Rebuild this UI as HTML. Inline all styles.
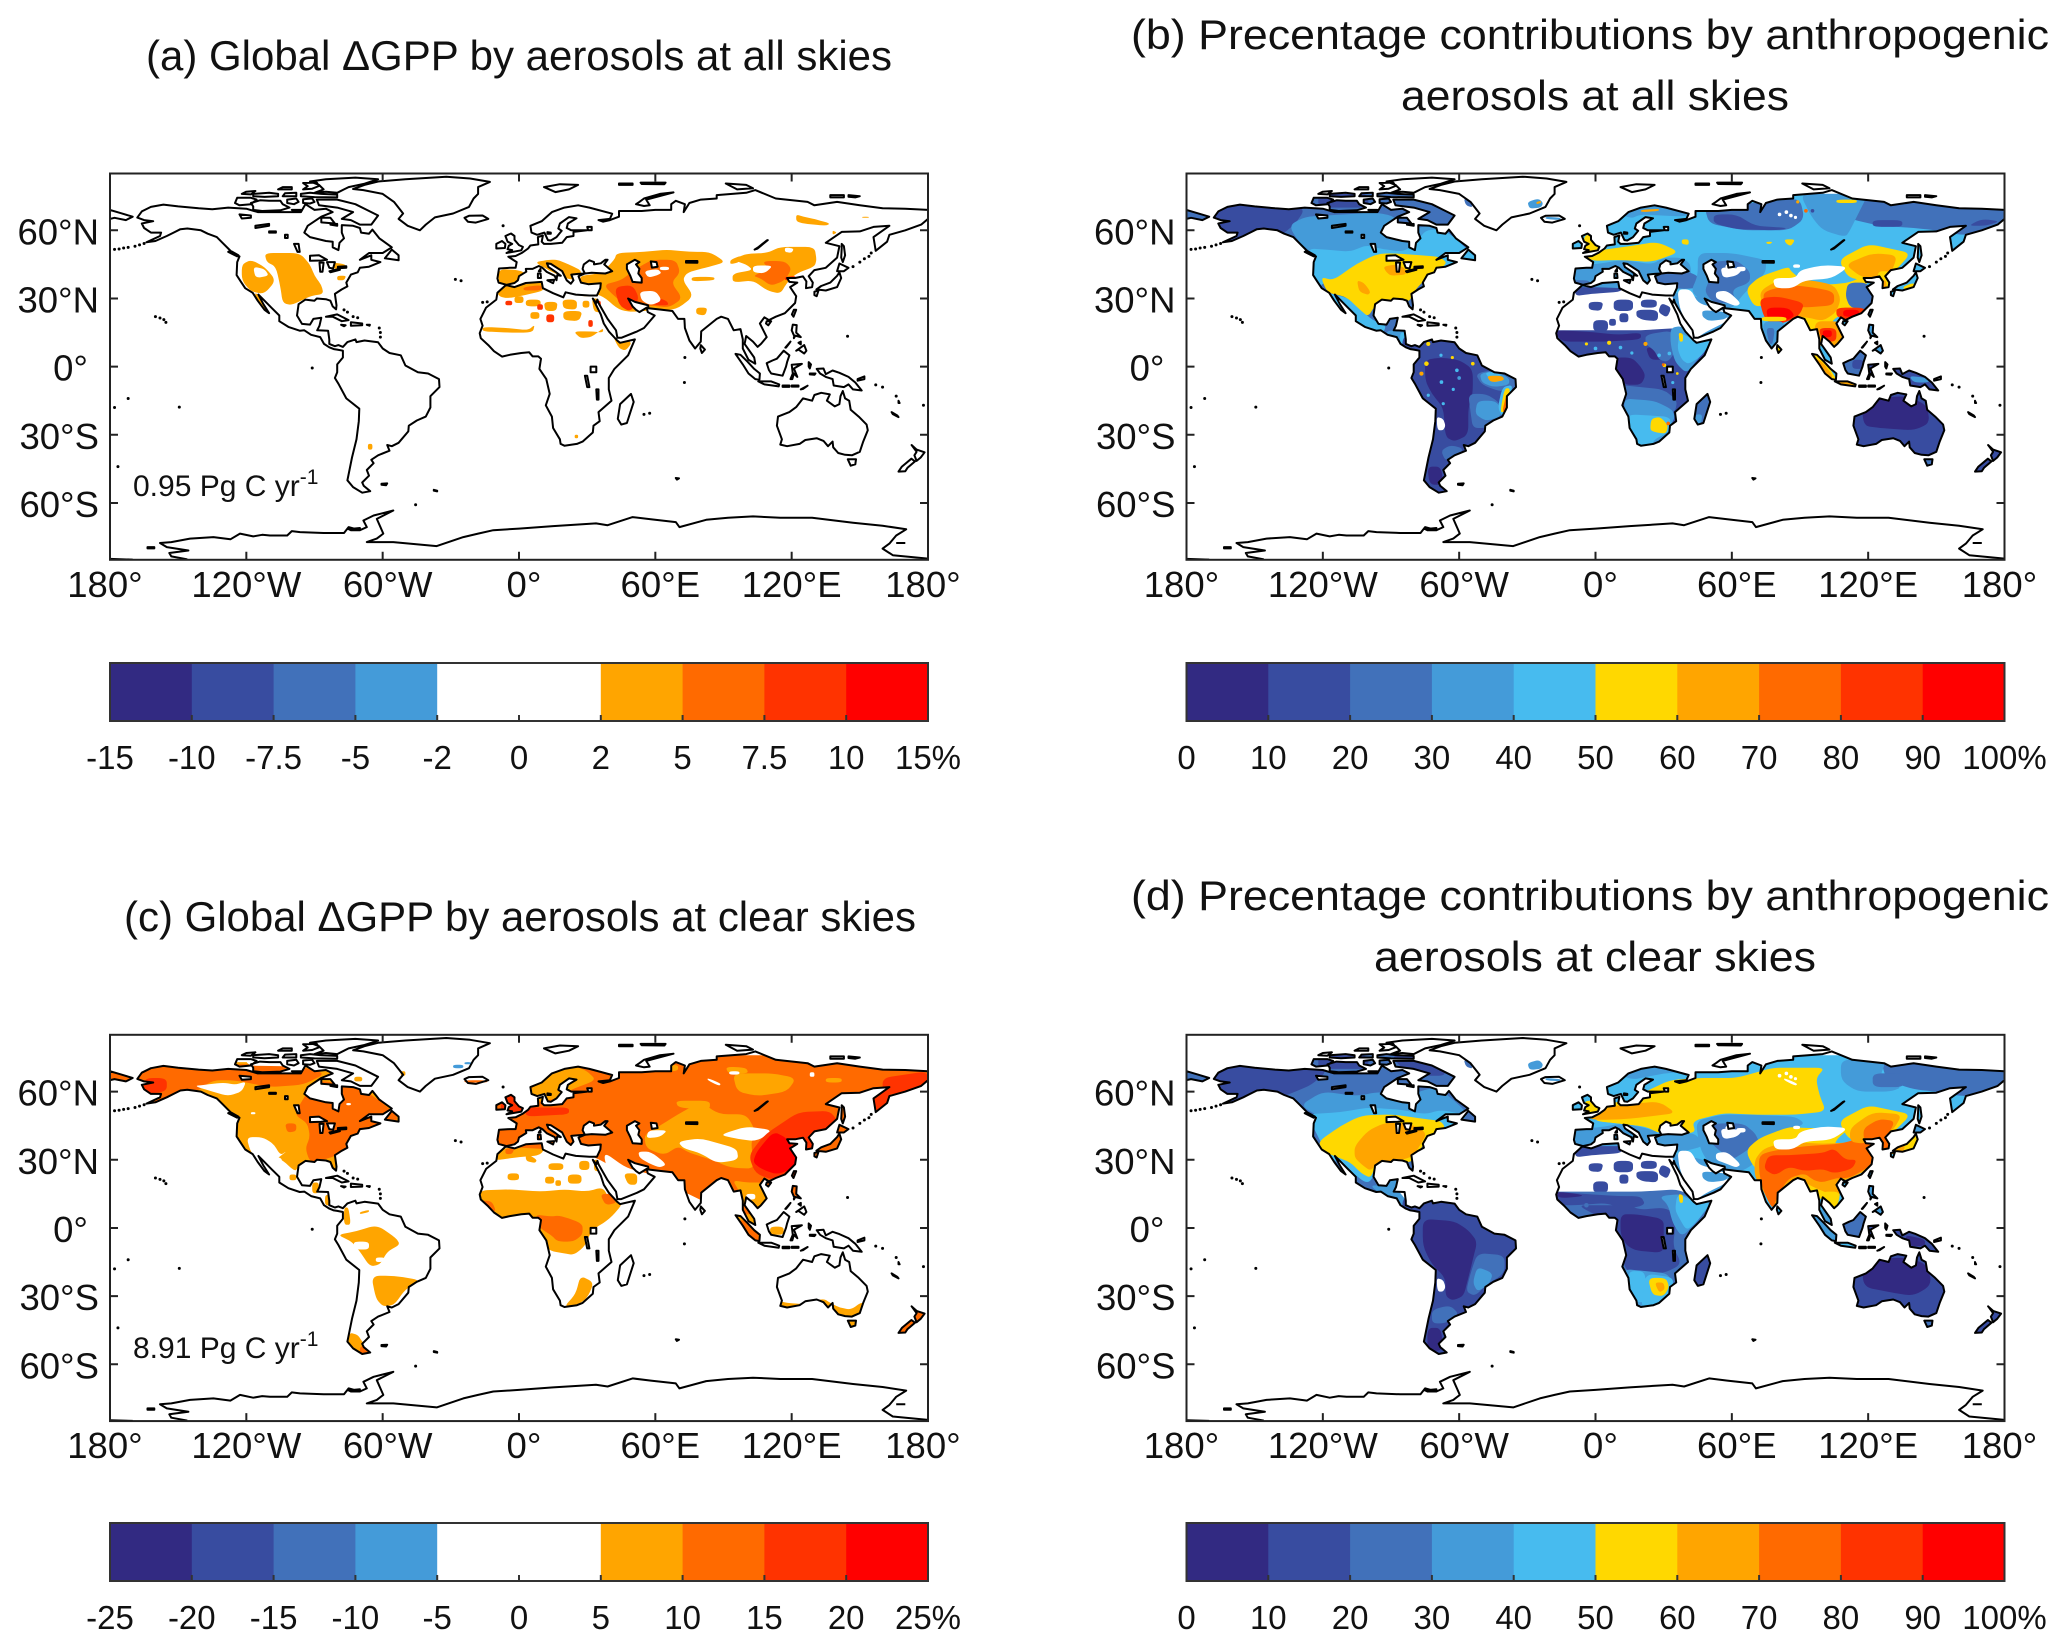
<!DOCTYPE html>
<html><head><meta charset="utf-8"><title>Global GPP aerosol maps</title>
<style>
html,body{margin:0;padding:0;background:#fff}
svg{display:block}
text{font-family:"Liberation Sans",Arial,sans-serif;fill:#111}
</style></head>
<body>
<svg id="figure" xmlns="http://www.w3.org/2000/svg" width="2067" height="1648" viewBox="0 0 2067 1648">
<rect width="2067" height="1648" fill="#fff"/>
<defs id="defs"></defs>
<text x="146" y="70" font-size="42" textLength="746" lengthAdjust="spacingAndGlyphs">(a) Global ΔGPP by aerosols at all skies</text>
<text x="1131" y="49" font-size="42" textLength="918" lengthAdjust="spacingAndGlyphs">(b) Precentage contributions by anthropogenic</text>
<text x="1401" y="110" font-size="42" textLength="388" lengthAdjust="spacingAndGlyphs">aerosols at all skies</text>
<text x="124" y="931" font-size="42" textLength="792" lengthAdjust="spacingAndGlyphs">(c) Global ΔGPP by aerosols at clear skies</text>
<text x="1131" y="910" font-size="42" textLength="918" lengthAdjust="spacingAndGlyphs">(d) Precentage contributions by anthropogenic</text>
<text x="1374" y="971" font-size="42" textLength="442" lengthAdjust="spacingAndGlyphs">aerosols at clear skies</text>
<g id="panel-a" transform="translate(110,173.5)"></g>
<g id="panel-b" transform="translate(1186.5,173.5)"></g>
<g id="panel-c" transform="translate(110,1034.8)"></g>
<g id="panel-d" transform="translate(1186.5,1034.8)"></g>
<text x="133" y="496" font-size="30">0.95 Pg C yr<tspan font-size="21" dy="-12">-1</tspan></text>
<text x="133" y="1358" font-size="30">8.91 Pg C yr<tspan font-size="21" dy="-12">-1</tspan></text>
<g id="cb-a" transform="translate(110,663)"></g>
<g id="cb-b" transform="translate(1186.5,663)"></g>
<g id="cb-c" transform="translate(110,1523)"></g>
<g id="cb-d" transform="translate(1186.5,1523)"></g>
</svg>
<script>
// ---- tick labels / axis data ----
const lonTicks=[-180,-120,-60,0,60,120,180];
const lonLabels=['180°','120°W','60°W','0°','60°E','120°E','180°'];
const lonLabelNudge=[-5,0,5,5,5,0,-5];
const latTicks=[60,30,0,-30,-60];
const latLabels=['60°N','30°N','0°','30°S','60°S'];
const cbLabelsA=['-15','-10','-7.5','-5','-2','0','2','5','7.5','10','15%'];
const cbLabelsC=['-25','-20','-15','-10','-5','0','5','10','15','20','25%'];
const cbLabelsPct=['0','10','20','30','40','50','60','70','80','90','100%'];
const palette=['#322a82','#384ca0','#4171ba','#449bd9','#47bbef','#ffd800','#ffa500','#ff6a00','#ff3300','#ff0000','#ffffff'];
const cbLevelsDelta=[0,1,2,3,10,10,6,7,8,9];
const cbLevelsPct=[0,1,2,3,4,5,6,7,8,9];

// ---- coastlines, flat lon,lat lists ----
const americas=[-168,65.6,-166,68.3,-162,70.3,-156.5,71.3,-150,70.5,-141,69.7,-135,69.3,-128,70,-120,69.5,-115,68,-108,68,-100,68,-96,68,-94,71.5,-90,69,-85,69.5,-82,68,-87,66,-93,62,-94.5,59,-92,57,-85,55.3,-82,55,-82,52.5,-79.5,51.3,-79,54.5,-77,56.5,-78,59,-78,62.3,-73,62,-70,61,-69.5,59,-66,58.5,-64.5,60.3,-61.5,56.5,-56,52.5,-60,50,-66,50,-70,47,-65,49,-65,47,-61,46,-66,44,-70,43.5,-71,41.5,-74,40.5,-76,37,-75.5,35.3,-78,34,-81,32,-80.3,27,-80.5,25.2,-82,26.5,-83,29,-85,29.7,-89,30,-90,29,-94,29.5,-97,27.5,-97.7,22.5,-95.5,18.8,-92,18.5,-90.5,21,-87,21.5,-87.8,18,-88.8,16,-84,15.8,-83.5,12,-83.5,10,-81,9,-79.5,9.5,-77.5,8.7,-75.5,10.8,-72,12,-71.5,10.8,-68,11.5,-62,10.7,-60,8,-57,6,-52,5,-50,0.5,-44.5,-2.5,-40,-3,-35.2,-5.5,-35,-9,-39,-13,-39,-18,-41,-22,-45,-23.7,-48.5,-26,-48.7,-28.5,-53,-33.5,-56,-35,-58,-34.5,-57,-37,-62,-39,-65,-41,-64,-42.5,-67,-45.5,-66,-48,-69,-51,-68.3,-52.5,-65.5,-54.8,-69,-55.5,-73,-53,-75.5,-50,-74.5,-45,-73.5,-40,-71.5,-32,-70.5,-24,-70.3,-18.5,-76,-14,-79.5,-7.5,-81,-5,-80,-2.5,-80,1,-77.5,4,-77.5,7,-80,7.5,-81.5,7.7,-83.5,8.5,-85.8,10,-87.5,13,-91.5,14,-94.5,16,-96.5,15.8,-101.5,17.5,-105.5,20,-105.5,22.5,-109,26,-112.5,29.5,-114.7,31.7,-112.5,27.5,-110,23.5,-112,25,-115,29,-117.2,32.5,-120.5,34.5,-122.5,37.5,-124.3,40.3,-124,46,-123,48.5,-125,49,-128,52,-130.5,54.5,-133,57,-137,58.5,-140,60,-146,60.8,-149,60.5,-152,59,-155,57.5,-160,55.3,-164,54.7,-158,57.5,-157.5,59,-162,59,-165,61,-166,63,-161,64,-165,64.5];
const afroEurasia=[-5.5,36,-9,37,-9.5,38.8,-8.8,43.2,-4,43.5,-1.5,43.5,-1,46,-4.7,48.4,-1.5,48.7,1.5,50.2,4,52,5,53.3,8.5,53.8,8.3,57,10.5,57.7,10,55,11,54,14,54,19,54.5,21,57,24,57.5,24,59.3,30,60,23,60,21,61,21.5,63,25.3,65.3,22,65.8,18,63,17.3,60.8,18.8,59.8,16.5,57,14,55.5,12.7,55.7,11.2,59,8,58,5.5,59,5,62,10,64,14.5,68,20,70,26,71,31,70,41,67.3,40,65,35,64.5,37,63.8,40,64.5,44,66,44,68.5,54,68.5,60,69,67,69,67,71.5,69,73,73,71.5,72.5,68,75,72,80,73.5,87,74,87,75.5,100,76.5,104,77.7,113,74,127,72.5,130,71,140,72.5,150,71,160,69.7,170,69.5,180,69,180,65,177,62.5,170,60,163,58,162,55,157,51,156,57,163,62,156,61.5,150,59.5,142,59.3,135,54.5,141,53,140,48,135,43.5,130,42.5,127.5,39.8,129.3,37,129,35,126.3,34.5,126.5,37.5,125,39.7,121.5,39,118,39,119,37.3,122.5,37,119.3,35,122,31,121.5,28,117,23.5,113,22,110,20.5,108,21.7,106,19,109,13,106.5,10,105,8.7,103,11,100,13.5,99.3,10,103.5,4,104,1.3,101,3,98.5,8,98.5,12,97.5,16.5,94.5,16,92,21,89,22,87,21,80.2,15.5,80,11,77.5,8,75,11.5,73,17,72.8,21,70,21,67.5,24.5,61.5,25.2,57,25.7,56.8,27,51,28.5,48,30,50,26.5,51.5,25,53,24,56.2,26,56.7,24,59.7,22.5,55,17,52,15.5,45,12.7,43.3,12.7,42.7,16,39,21,35,28,34.5,29.5,34,28,32.5,30,33.5,28,36,23,37.3,19,39.5,15.5,43.2,11.5,44.5,10.5,51,12,48,5,42,-1,39.5,-5,39.5,-10,40.7,-15,35,-20,35.5,-24,32.8,-26,32.5,-29,28,-33,25.5,-34,20,-34.8,18.3,-34,18,-32,15,-27,14.5,-22,11.8,-17,13.5,-12,12,-5.5,9,-1,9.7,3.5,8.5,4.5,6,4.5,4.5,6.3,1,6,-4,5.2,-7.5,4.4,-11,6.8,-13.5,9.5,-16.8,12.5,-17.3,14.7,-16,18,-17,21,-14.5,26,-10,29.5,-9.5,32.5,-6,35.7,-5.3,35.8,-2,35,3,36.8,10,37.3,10.5,34.5,15,32.3,19.5,30.5,20.5,32.7,25,31.7,31,31.3,34.3,31.3,35.8,34.5,36,36.7,30.5,36.3,27.3,37,26.2,39.8,29,41,26,40.8,23,40.5,24,38,22.8,36.5,21,38,19.5,41,19,42,14,45.2,12.3,45.5,13,43.8,16,41.8,18.4,40,16.8,40.3,16.5,38,15.7,40,12.2,41.7,10.3,43.5,8.7,44.3,6,43,3,43,3.2,41.8,0,39.8,-0.5,38,-2,36.8];
const chukotkaWest=[-180,69,-175,67.5,-170,66,-173,64.5,-178,65.5,-180,65];
const australia=[114,-22,113.5,-26,115.7,-32,115,-34.3,118,-35,123.5,-34,126,-32.3,131,-31.5,134,-32.7,136,-35,138,-33,138.3,-35.5,140.5,-38,143.5,-38.8,146.5,-39,150,-37.5,151.5,-33,153.5,-28,153,-25.5,149.5,-22,146,-19,145.3,-15,143.5,-14,142.5,-10.7,141.5,-13,141,-16.5,139,-17.5,135.5,-15,136.8,-12.2,133,-11.5,130,-12.5,129,-15,125,-14,122,-17.8,119,-20];
const clippedIslands=[
[-80,73.5,-72,71.5,-67,69,-62,66.5,-65,62.5,-70,62.5,-74,64.5,-78,65,-73,68,-80,70,-88,71,-89,73.5],
[-117,69,-113,68.5,-105,68.8,-101,70,-104,71.5,-105,73,-110,73,-114,73.2,-118,72,-117,70.5],[-125,72,-123,71,-118,71.5,-115.5,73.5,-118,74.3,-124,74.3],
[-90,76.5,-85,77,-80,76.5,-77,78,-75,79,-68,80.5,-65,81.5,-62,82.5,-72,83.2,-85,82.5,-92,81.5,-88,80,-86,78],[-96,75,-90,74.6,-80,74.5,-80,75.7,-87,76,-92,76.5,-96,76],
[-95,78,-91,78.3,-88,79.5,-89,81,-95,80.8,-93,79.4],[-117,75,-112,74.7,-106,75,-106,76,-110,76.5,-117,76],[-95,72,-92,71.8,-90,72.5,-91,74,-95,73.7],[-102,72,-99,71.5,-97,72.5,-98,74,-102,73.5],
[-122,76,-118,75.8,-116,77.3,-120,77],[-104,75,-98,75,-98,76.5,-103,76.3],[-106,78,-100,78,-100,79,-104,79],[-100,69,-96,69,-96,68.5,-99,68.4],[-83,62.5,-80,62,-80,62.8],
[-87,63.5,-81,63,-83,65.5,-87,65.5],[-59,47.7,-53,46.8,-53,49,-56,51.5],[-128,50.5,-124,48.5,-123.5,49,-127,51],
[-5.5,50,1,51.2,1.7,52.7,0,53.5,-2,55.8,-2,57.5,-3.5,58.6,-6,57.5,-5,55,-3,54,-4.5,53.2,-5,51.7,-3,51.3],[-10,52,-6.2,52.2,-6,54,-7.5,55.3,-10,54],
[12.5,38,15.5,38.2,15,36.7],[8.3,39,9.7,39,9.5,41,8.3,41],[8.7,42,9.5,42,9.4,43],
[142,54,143,53,143.5,49,142.5,46,141.8,48,142,52],[140,42,141,45.4,145,43.5,143,42],[130.9,34,135,33.5,140,35,141.8,39,141,41.5,140,40,137,37,133,35.5],[130,33,131.8,33.5,131,31,130,31.5],
[121,25,122,25,120.8,22,120.1,23],[109,20,111,20,109.7,18.2,108.7,19],[80,9.5,81.8,7.5,80.5,6,79.8,8],
[120.5,18.5,122.2,18.3,122,15,124,13,121,13.8,120,16],[122,7,125.5,9.5,126.5,7,125.5,5.8,123,7.5],
[109,1.5,111.5,2.7,113.5,3.5,116.5,7,119,5,118,2,117.5,0,116,-4,111,-3,110,-1.5],
[95.3,5.6,97.5,5.2,100.5,2.2,103.5,-1,106,-3,105.8,-5.8,104,-5.5,101,-3,98.5,1],
[105.3,-6.5,108.5,-6.5,111,-6.5,114.5,-7.8,114.3,-8.7,108,-7.8],
[119.5,-5.5,120.5,-3,120,0.8,124.5,1.2,121,-0.8,122.5,-4.5,121,-3,120.3,-5.5],
[131,-1,134,-0.8,135,-3.3,138,-1.7,141,-2.7,145,-4.5,148,-7,150.8,-10.5,147,-10,145,-7.8,143,-9,138.5,-8.3,138,-5.5,135,-4.5,132.5,-3],
[144.7,-40.8,148.3,-40.8,148,-43,146,-43.6],
[172.8,-34.5,175,-36.5,178.5,-37.7,176.8,-40,175,-41.5,174,-39,175,-37.5],[172.7,-40.5,174.3,-41.7,171,-44.5,170,-46,167,-46.2,168.5,-44],
[49.3,-12,50.5,-15.5,47.5,-24.8,45,-25.5,43.5,-23,44.5,-16.5]];
const freeIslands=[
[-73,78.2,-68.5,77.7,-60,76,-55,72.5,-51,67.4,-53,65,-49,62,-43.6,60,-41,62.5,-37,65.7,-29,67.4,-22,70.3,-20,74,-18,76,-18,79,-12.8,81.3,-21.5,82.8,-32,83.6,-50,82.5,-62,81.5,-68,80],
[-24,65.5,-22,66.4,-16,66.5,-13.5,65,-19,63.4,-22.5,63.8],
[-85,22,-80,23,-75,20.5,-78,20,-82,22],[-74,19.5,-69,19,-69,18.2,-74,18],[-78.3,18.4,-76.3,18.2,-77,17.8],[-67,18.4,-65.6,18.4,-65.8,18],
[51.5,71.5,55,70.7,57.5,71,56,73.5,68,76.7,62,76,55,74,53,72.5],[11,79,16,76.8,22,78,26,80,18,80.3],
[44,80.6,50,80.6,50,80,44,80],[53.5,81,64.5,81,64,80.3,54,80.4],[91,80.6,100,80,103,78.5,96,78],
[137,75.5,143,75.5,143,74.5,137,74.5],[145,75.5,150,75,148,74.5,145,74.8],
[116,-8.3,119,-8.3,119,-8.9,116,-8.9],[120,-8.3,123,-8.3,123,-8.8,120,-8.8],[124,-10,127,-8.4,125,-9.8],[127.5,2,128.5,1,128,-0.8,127.5,0],[128,-3,130.5,-3,130,-3.6,128,-3.4],[149,-5.5,152,-4.3,152,-5.5,149,-6.2],[117.2,8.4,119.5,11,118.8,10,117.5,8.4],[121,12.5,121.5,13.5,121,13],[123,10.5,124,11,124,9.8],
[69,-49,70.4,-49.2,69.5,-49.7],[-60.5,-51.5,-58,-51.4,-58.5,-52.2,-60.5,-52],[-37.5,-54.2,-36,-54.6,-36,-54.9,-37.5,-54.6],[164,-20,166.5,-21.5,167,-22.2,164.5,-20.9],[167,-15,167.5,-16,167,-16]];
const lakes=[
[47.5,45,51,47,53,46,51.5,45,53,43,52.5,41,54,39,54,37,50,37.3,49,40,47.5,43],
[58,46.3,60.5,46,61,44,58.5,43.6],
[28,43,28.5,45,31,46.8,33,46,33,45,36,45.5,38,47,39,47,37.5,45,41,42,38,41,32,41.3,29,41],
[103.7,51.5,105,52,109.5,55.7,109,55.5,105.5,52.7],[73.5,46.5,78.5,46.5,78.5,45.7,73.5,45.8],
[31.5,0,34,0,34,-2.5,31.5,-2.5],[29,-4,30,-4,31,-9,30,-9],[34,-10,35,-10,35,-14.5,34.3,-14.5],
[30,61.5,32,61.5,32,60,30.5,60],[12.5,59.2,14,59,14,58.5,12.5,58.5],
[-92,48.8,-88,49,-84.5,47,-87,46.7,-92,46.6],[-87.8,45.8,-86,45.8,-86.5,41.8,-87.5,41.8],[-84.5,46,-81,46,-81.8,43.2,-83.5,43.5],[-83.4,42,-79,43,-78.8,42.6,-83,41.5],[-79.7,44,-76,44.2,-76,43.5,-79.7,43.3],
[-123,67,-118,66.5,-118,65.5,-122,65.2],[-116,62,-110,62.8,-110,62,-116,61],[-110,59.5,-107,59.5,-107,59,-110,59],[-103,58,-101.8,58,-101.8,56.6,-103,56.6],[-99,54,-97,54,-96.5,50.5,-97.5,50.5]];
const islandDots=[[-160,22],[-158,21.4],[-156.3,20.7],[-155.4,19.5],[-172,-14],[-149.5,-17.8],[-176.5,-44],[-91,-0.6],[-45.5,-60.8],[-28,38.4],[-25.5,37.8],[-16,28.3],[-14,28.5],[-7,62],[55,-21],[57.5,-20.5],[-174,52.2],[-172,52.5],[-169,53],[-167,53.6],[-165,54.2],[-176,51.8],[-178,51.6],[-77,25],[-75.5,24],[-73,22],[-71,21.5],[-61,15],[-61,13],[-61.5,17],[147,44],[150,46],[152,47.5],[154,48.5],[155,50],[166,-13],[160,-9],[157,-8],[-178,-18],[178,-17],[144.6,13.4],[72.8,-7],[73,4]];
const antarcticaMain=[-146,-84.8,-153,-83.5,-153.9,-82,-145.5,-80.9,-155,-79.4,-158,-77.6,-153,-77.2,-144.8,-75.7,-134.5,-75,-127,-76,-122.8,-73.5,-117,-74.7,-113,-74,-109.6,-74.3,-102,-74.3,-100,-72.4,-96.4,-72.8,-86,-73.2,-77,-73.2,-75,-70.6,-70,-72,-67,-70.6,-68.5,-67.7,-64,-65.5,-55.3,-63.3,-62.6,-67,-59.7,-73.5,-62.6,-75.7,-67,-77.2,-55.3,-77.2,-36.2,-79,-24.5,-75,-18,-73.5,-11.3,-72,0,-71.3,15,-70.2,33.9,-69,39,-69.8,50,-66.2,58,-67.2,69,-68.4,70.6,-70.6,82.4,-67.4,92,-66.5,103,-65.9,115,-66.5,129,-66.5,147,-68.7,160,-70,170.4,-71.6,166,-74.3,163,-77.9,160,-80.1,164.5,-83,180,-84.5];
const antarcticaWestEnd=[-180,-84.6,-170,-84.9];
const antarcticaBits=[[-163.5,-79.4,-160.5,-79.4,-160.5,-80,-163.5,-80],[166,-77.6,170,-77.6],[-75,-71.5,-70,-71,-70,-72,-74,-72]];

// ---- filled contour regions: [level, lon,lat, lon,lat, ...] ----
const fieldA=[
[6,-112,50,-96.5,50,-92,45,-90,40,-87,36,-86,32,-92,31,-100,27,-104,28,-105,35,-107,44,-111,46],
[6,-122,45,-118,47,-112,44,-107,38,-112,32,-118,33,-122,38],[10,-117,44,-112,43,-110,40,-116,39],
[6,-117,33,-112,30,-110,24,-113,26],[6,-80,40,-76,40,-77,38,-80,38],[6,-83,46,-76,45,-77,43,-82,43],
[6,-66.5,-34,-64.5,-34,-64.5,-36.5,-66.5,-36.5],[6,24.5,-30,26,-30,26,-31.5,24.5,-31.5],
[6,43,50,55,50.5,65,51.5,75,50.5,84,50.5,91,46,84,44,74,41.5,72,38,77,31,69,25,60,25,50,24,44,25,37,31,30,33,27,37,27,40,36,41,42,47],
[6,76,39.5,86,39.5,86,38,76,37.5],
[7,58,47,69,47,71,41.5,67,37,72,30,66,26,58,27,49,26,43,30,37,36,45,38,50,42],
[8,42,35,50,36,53,30,49,24,44,27],[8,59,31,65,29,66,27,59,27],
[10,53,33,60,33.5,63,29,58,27,54,29],[10,55,42,61,43,63,41,57,39],[10,62,44,66,44,66,42.5,62,42.5],
[6,94,47,100,49.7,109,50,115,52.7,130,52.7,131,47,130,44,122,41,118,37,115,32,109,33.6,103,38,94,37,94,41,103,42.5,100,45],
[7,107,46.5,117,46.5,120,43,117,38,111,35.5,106,39,103,40,110,43],[8,117,39.5,122,40,121,38,117,38],
[10,117,52.5,121,52,120,50,117,50.5],[10,103,44.5,112,44.5,108,41,103,41.5],
[6,122,67,125,66,130,65,137,63,135,62,125,63,122,64],[6,151,66,154,66,154,65.5,151,65.5],[6,138,60,140,59,138,58],[6,78,26,83,26,82,22.5,78,23],[6,93,47,98,49,97,46,93,45],
[6,-9,43,0,42.5,3,41,-3,36,-9,36.5],[6,7,46,13,47,17,47,22,45,28,42,25,38,20,39,16,41,12,43],
[6,-10,35,-5,36,1,36,11,37.5,11,33.5,5,32,-5,30,-9,31],[7,2,35,10,36,10,33.5,2,33.5],
[6,11,28.5,17,28.5,16.5,24.5,11.5,24.5],[6,19.5,24.5,28,24.5,26.5,20,19.5,20.5],[8,12,23,15.5,23,15.5,19.5,12,19.5],[6,19,29.5,25.5,29.5,25.5,25,19.5,25.5],[6,3,29.5,9.5,29.5,9.5,26.5,3,26.5],[8,8,27.5,10.5,27.5,10.5,25,8,25],[8,-6,29,-3,29,-3,27,-6,27],[6,-2,31,2,31,2,28,-2,28],[6,5,24,9,24,9,21,5,21],[6,28,29,31,29,31,26,28,26],
[6,-16,17.5,-5,17,4,16,7,18.5,6,15,-5,15,-16,15.5],[6,24,15.5,32,15.5,37,15,37,17,32,13,27,12.5],[6,41,14,50,11,47,7,44,8],
[8,30.5,20.5,32.5,20.5,32.5,17.5,30.5,17.5],[6,32,30,35,30,37,24,33,24],[8,34,29,36,29,36,26,34,26],[6,26,34,36,31,32,31,27,31]];
const freeA=[];
const fieldB=[
// north america
[2,-175,76,-60,76,-50,50,-60,40,-80,20,-100,10,-125,30,-135,52,-175,50],
[1,-172,72,-134,72,-128,69,-132,63,-138,58,-150,52,-172,52],[1,-122,76,-100,76,-100,70,-122,70],
[3,-135,62,-128,66,-110,67,-97,68,-88,66,-85,59,-75,62,-66,61,-60,53,-60,47,-70,44,-98,47,-110,49,-122,48,-130,54],
[4,-127,52,-118,51.5,-108,50.5,-101,53.5,-95,52,-85,50.5,-79,54,-75,60,-68,60.5,-62,57,-57,52,-50,46,-66,42,-80,45,-95,46,-110,40,-122,36,-118,30,-125,38],
[4,-120,33,-108,30,-100,22,-97,20,-92,18,-94,14,-105,18,-112,25],
[2,-92,22,-86,22,-87,16,-92,16],[3,-92,16,-82,16,-82,8,-92,12],[4,-86,15,-83,15,-83,9,-86,10],
[5,-121,39.5,-115.4,38,-105,45.4,-95.6,49.8,-87,49.8,-77,49,-68.5,48.3,-65,45.4,-74,39.5,-80,33,-81.7,29,-84,29,-90,28,-97,27,-100,22,-103.7,25,-109.6,30.7,-118,32.5],
[6,-93.4,44,-88,45,-84,43.5,-83,40.5,-90,40,-92,41.5],[6,-105,38,-102,37,-99,33,-100,31.5,-104,33],
// south america
[1,-85,14,-55,12,-30,-5,-30,-30,-60,-60,-80,-60,-85,-5],
[0,-75,3,-68,4,-60,3,-54,-1,-54,-12,-56,-18,-56,-30,-62,-33,-66,-31,-67,-18,-72,-12,-75,-6],[0,-74,-44,-68,-44,-67,-52,-73,-52],
[2,-56,-12,-48,-12,-42,-16,-41,-22,-48,-27,-54,-27,-55,-20],[3,-52,-15,-44,-15,-41,-19,-42,-22,-48,-24,-53,-21],
[2,-68,-37,-64,-34.5,-58,-36,-61,-40,-66,-41.5],[2,-53,-3,-42,-1,-35,-5,-35,-10,-42,-11,-50,-8],[3,-51,-3,-44,-2,-38,-5,-38,-8,-45,-9,-50,-7],[4,-49,-2.5,-43,-2.5,-40,-6,-45,-7],[6,-48,-4,-41,-4,-40,-6,-46,-7],
[4,-41,-9,-36.5,-8,-37.5,-13,-39,-20,-41,-22,-43,-18],[5,-40,-9.5,-37.5,-9.5,-38.5,-15,-40,-20,-42,-20],[7,-39.5,-13,-38.5,-13,-39.5,-20,-41,-20],
[10,-70,-22,-67,-23,-66,-26,-67,-28,-69.5,-28],
// eurasia base
[4,-12,62,-5,72,30,72,60,76,180,76,180,-12,95,-12,60,5,52,12,43,12,35,30,-12,36],
// africa
[10,-20,37,12,38,35,32,40,16,20,15.5,-20,15.5],[1,-9,36,12,38,12,33,-2,32,-9,31],
[1,8,29.5,16.5,29.5,16.5,24.5,8,24.5],[1,18,25,27.5,25,27.5,20,21,20.5,18,22],[1,10.5,23.5,14.5,23.5,14.5,19.5,10.5,19.5],[1,20,29.5,27,29.5,27,26,20,26],[1,-1,20.5,5.5,20.5,5.5,15.5,-1,15.5],[1,29,28,33.5,26,31.5,21.5,27.5,24],[1,-3,28.5,3.5,28.5,2.5,24.5,-3,25],[1,6,21,9,21,9,18,6,18],
[1,-20,16,20,16,37,17,45,12,55,12,52,-5,42,-10,42,-37,10,-37,5,-5,5,0,-20,2],
[0,-18,16,-5,15.5,10,14,20,15,20,12,5,11,-5,11,-15,11],[0,8,4,16,4,20,0,22,-4,20,-8,13,-8,10,-4],[0,22,9,30,7,30,3,24,3],
[2,22,14,34,16,36,8,32,2,28,3,26,7,22,10],[3,33,17,38,18,43,12,52,12,44,2,40,-3,35,2,33,10],[4,37,15,43,12,51,11.5,47,5,41,1,38,3,36,8],[5,36.5,15,38.5,14.5,38.5,11,37,11],
[2,10,-8,30,-10,36,-15,35,-20,28,-22,14,-20,12,-14],[3,12,-14,26,-15,34,-19,35,-23,30,-30,15,-30],[4,14,-21,33,-22,33,-28,28,-34,18,-35,15,-27],[5,24.5,-23,28.5,-22,32,-26,31,-29.5,27,-29,24,-28],[3,26,-32,30,-30,34,-27,33,-30,28,-36,24,-36],
[2,42,-11,52,-11,52,-27,42,-27],[3,44,-21,47,-21,46.5,-25,44,-25],
// eurasia
[2,105,76,180,76,180,58,160,58,150,60,140,61,125,62,112,65,106,69],[3,90,76,120,76,115,66,112,60,110,57,100,60,95,66],[1,122,64.5,135,64.5,135,61.5,122,61.5],[1,164,62,172,62,178,64,170,65],
[2,48,70,90,74,92,65,85,60,65,60,50,63],[1,52,67,62,67,70,62,85,61,80,60,62,60.5,52,63],[3,5,71,30,72,50,70,40,66,20,67,15,65],[6,20,69,28,69.5,28,68.5,20,68],[5,106,73.5,115,73.5,115,72,106,72],
[5,-5,52,0,51,15,53,27,55,37,50.5,25,46,10,47,0,46.5,-5,48],[5,-5,58,1,58,2,52,-2,50,-5,52],[5,38,56,41,56,41,53.5,38,54],[5,83,56,88,56,86,53,84,54],[5,75,55,78,55,77,54,75.5,54],
[3,-10,45,0,45,12,47,25,45,30,48,38,48,42,45,42,37,25,34,0,35,-10,35],[2,-10,38,-3,38,-2,36,-10,36],[2,26,41,40,42,45,40,48,35,38,34,27,36],
[3,45,50,60,50,75,47,75,42,72,38,65,32,60,25,48,28,42,33,45,40],[2,50,46,62,47,68,42,68,37,60,34,62,28,52,28,48,33,50,38],
[3,33,33,48,30,60,24,60,18,45,10,38,18],[10,36,34,42,34,45,28,52,26,58,24,58,20,48,15,44,12,40,19,37,26],[3,47,25,58,24,58,21,50,20,47,22],
[10,53,33,58,33.5,64,28,62,26.5,57,28.5,53,30],[10,55,44,65,43,62,40,56,39],[10,62,44,66,44,66,42,62,42],
[5,66,34,72,39.5,85,44,86,42,92,37,102,36,112,37,120,41,119,35,122,31,118,24,105,22,100,10,95,15,92,20,85,22,78,28,70,26],
[6,72,33,80,38,95,38,105,36,108,30,106,24,100,20,92,22,82,22,74,26],[7,74,33,85,36,95,35,105,33,105,27,92,26,85,27,74,28],
[8,72,30,80,31,92,28,90,23,85,20,78,18,74,22],[9,75,26,85,26,88,22,80,19,76,20],
[2,111,37,120,37,122,30,120,25,112,26,110,31],[8,106,26,118,26,120,23,112,20,106,22],[9,109,25,116,25,116,22,109,22],
[6,96,20,108,20,110,12,105,8,98,9],[8,98,17,106,17,106,11,100,11],[9,100,16,104,16,104,13,100,13],
[3,73,20,84,20,80,8,76,8],[2,75,17,79,17,78,10,76.5,10],[5,73,22,84,22,84,20,73,20],[5,79,10,82,10,82,5,79,5],
[5,107,47,120,54,139,50,129,39,117,38,111,39.5],[6,110,45,122,50,133,49,130,41,123,38,116,40],[5,124,42,130,42,130,34,124,34],[6,124,38,128,38,128,34,124,34],
[10,78,39,88,39,90,42.5,100,44.7,111.5,44,104,38.8,92,38,86.7,34.5,79,34.5],[10,87,45,90,45,90,43.5,87,43.5],
[5,135,35,140,37,141,35,137,33],
[3,119,20,127,20,127,5,119,5],[2,108,8,120,8,120,-5,108,-5],[1,113,3,118,3,118,-1,113,-1],[5,94,6,100,4,107,-7,100,-5],[6,96,4,100,2,105,-5,101,-4],[6,105,-5.5,115,-6,115,-9,105,-8],
[1,118,2,126,2,126,-6,118,-6],[1,130,0,150,-3,152,-11,130,-10],[3,138,-4,146,-5,147,-7,140,-7],
[1,110,-10,156,-10,156,-45,110,-45],[0,117,-14,137,-13,146,-17,147,-25,140,-28,125,-27,118,-26],[2,144,-40,149,-40,149,-44,144,-44],[1,165,-33,180,-33,180,-48,165,-48],
[2,-180,70,-168,70,-168,62,-180,62]];
const freeB=[[3,-30,72.5,-25,74,-23,72,-24,70,-29,69.5],[6,-26,72.5,-24,73,-24,72,-26,71.5],[2,-58,74,-55,73,-54,70,-57,71],[3,-22,66,-15,65.5,-16,64.5,-22,65]];
const spotsB=[[-73.6,10,5,.9],[-76.6,-3.1,6,.9],[-74.4,1.3,5,1],[-61,-1.6,4,.8],[-54,1.3,5,.8],[-67.8,-6.8,4,.8],[-67,-16.3,4,.7],[-73.6,-12.6,4,.7],[-62.6,-10,4,.7],[-68,5,4,.7],[-63,4,5,.7],[-60,-5,3,.8],
[6,10.5,5,.9],[11,8.4,4,.8],[22,10,6,.9],[30.3,.6,5,.8],[28,5,4,.8],[32.5,5.8,4,.8],[29.8,.9,7,.6],[0,8,4,.8],[-4,10,5,.7],[36,-3,5,.6],[34,-7,4,.7],[32,-25,7,.8],[16,6,4,.7],
[92.6,68.6,7,.8],[95.5,68.6,1,.8],[89,72.5,6,.7],[84,68,10,.8],[86,66.5,10,.8],[88,65.7,10,.7],[81,67,10,.8],[58,44,10,.8]];
const fieldC=[
// north america
[6,-170,73,-60,73,-52,45,-80,25,-97,27,-98.6,24.8,-105,30.7,-120,32,-135,55,-170,53],
[7,-168,72,-100,72,-85,68,-95,63,-110,62,-125,65,-135,65,-142,60,-160,54,-170,60],
[7,-99,50,-93,60,-88,65,-70,62,-60,55,-52,48,-62,43,-75,36,-80,32,-86,30,-92,29,-94,35,-92,40,-93,46],
[8,-165,66,-155,66,-155,60,-165,59],[7,-103,46,-98,46,-98,42.5,-102,42],
[10,-120,78,-60,78,-60,62.5,-75,62.5,-82,68.5,-95,71,-120,71.5],
[10,-143,62.5,-138,63,-130,64,-125,63,-120,64.5,-122,60,-128,58,-135,60],[10,-120,40,-113,40,-108,37,-105,32,-102,34,-107,30,-112,28,-118,33],[10,-118,33,-104,31,-105,27,-101,22,-96,15,-85,6,-95,13,-110,24],
[6,-72.5,66.5,-69,66.5,-69,64.5,-72.5,64.5],[10,-118,51,-116,51,-116,50,-118,50],[10,-76,55,-74,55,-74,54,-76,54],
[6,-91,20,-88,20,-88.3,15.3,-91,15.3],[6,-85.4,14.5,-83,14.5,-83,10,-85.4,10],[6,-101,23.5,-98,23.5,-98,21,-101,21],
// south america
[6,-77,9,-75,9,-74,1.4,-77,1.4],[6,-70,7,-66,8,-66,7,-70,6],
[6,-80,-3,-71.4,-1.5,-62.6,1.4,-54,-4.5,-52.4,-7.4,-58,-10.4,-61,-16,-65.6,-17,-70,-10.4,-73.6,-6],[10,-73,-6,-66,-6,-66,-9.5,-72,-9.5],[10,-63,-13,-59,-13,-60,-15,-63,-15],
[6,-65,-21,-55,-21,-43,-23,-50,-27,-55,-34,-60,-34.5,-63,-31],[6,-75,-46,-71,-47,-69,-50,-65,-55,-75,-56],[7,-70,-52,-66,-52,-66,-56,-70,-56],
// africa
[6,-18,16.5,-5,17,10,16,20,17,30,16,37,18,40,12,46,11,40,4,32,-1,29,-8,24,-12,19,-11,13,-10,9,-2,9,4,-20,3],
[7,7,6,14,5,18,5.5,28,2,28,-3,24,-6,17,-6,14,-3,9,0],[7,35.7,15,42,15,43,11,38,10],[7,-18,12,-12,12,-10,7,-14,8],
[6,27,-21,33,-24,30,-31,24,-35,20,-34.5,25,-29],
[6,-10,34,0,36.5,12,38,10,32,-2,31,-8,30,-11,30],[7,-6,35,-2,35,-3,32.5,-6,32.5],
[6,13,28.5,19.5,28.5,19.5,25.5,13,25.5],[6,21.5,23.5,27.5,23.5,27.5,19.5,21.5,19.5],[6,11.5,22.5,15.5,22.5,15.5,19.5,11.5,19.5],[6,3,33,8,30,7,28.5,3,29.5],[6,26.5,29.5,31,29.5,31,25.5,26.5,25.5],[6,16,21,18.5,21,18.5,18.5,16,18.5],[6,33,30,35,30,36,25,33,25],[6,-5,24,0,24,0,21,-5,21],
// eurasia
[7,-12,62,-5,72,30,72,60,76,180,76,180,48,160,48,140,20,120,5,95,5,60,22,48,22,36,30,25,34,-12,36],
[6,4,60,12,68,25,71,30,69,34,65,22,60.5,20,58,8,55],
[8,3,53,22,53,22,50,3,49],
[6,62,45,70,50,80,55.5,88,50,100,50,104,43,102,37,104,26,93,26.5,85,30,75,33,70,36,64,32,56,35,55,41],
[6,69,56,84,56,84,52,70,53],[6,94,68,112,68,122,66,118,60,105,58,96,60],[6,91,71,100,70.5,101,68,92,68],[6,135,66,142,66,142,64,135,64],[6,60,71,70,72,70,69,60,69],
[10,70,38,79.7,39.5,95.8,35,96.6,30,87,28.5,79.7,33,72.3,35],[10,88.5,41,100.2,44.7,111.9,43,104.6,38,94.4,39.5],
[10,52.5,33.6,58,33.6,65,28,62,26.5,57,28.5,53,31],[10,57,43,65.5,43,62,40,56,39.5],
[10,37,33.6,47.4,26.3,59,23.4,59,20,44.5,14.6,40,20.4],[6,46,24,52,24,52,19,48,19],
[6,94,21,100,20,108,20,109,12,105,9,99,10,97,16],[10,100,15,104,15,104,12.5,100,12.5],
[8,101,32,108,41,123,51,137,51.5,141,46,130,40,127,33,122,30,122,23,112,21,104,24],
[9,104.6,33.6,112,42.5,118,39.5,122.2,32,120.8,26.3,113.4,23.4,106,26.3,103,29],
[8,160,66,180,69,180,61,170,59,160,59],[8,155,60,165,60,160,52,155,52],[8,125,38,131,38,130,33,125,33],
[10,83,66,89,63.5,88,62.5,83,65],[10,92.5,69,97,69,97,67.5,92.5,67.5],[10,128,68.5,130,68.5,130,66.5,128,66.5],
[6,99,6,108,6,107,-7,95,6],[7,96,4,104,2,106,-6,103,-6],[10,108,8,131,8,131,-12,108,-12],[6,110.5,0.6,116.5,0.6,116.5,-3,110.5,-3],
[6,114,-32,118,-33,125,-33.5,134,-31,137,-33,141,-35,146,-36,151,-32.5,152,-35,148,-40,140,-40,130,-36,115,-36],[6,144,-40,149,-40,149,-44,144,-44],[7,165,-33,180,-33,180,-48,165,-48],
[7,-180,70,-168,70,-168,62,-180,62],[8,-8,60,2,60,2,50,-8,50]];
const freeC=[[3,-29,71.8,-24.5,71.8,-24.5,70.3,-29,70.3],[3,-24,73,-21,73,-21,72,-24,72],[7,-24,65,-14,65,-14,64,-24,64],[6,-52,69,-50,69,-50,67,-52,67]];
const fieldD=[
// north america
[2,-175,76,-60,76,-50,50,-60,40,-80,20,-100,10,-125,30,-135,52,-175,50],
[1,-172,72,-125,72,-118,69,-125,63,-132,60,-140,57,-172,52],[1,-122,76,-100,76,-100,70,-122,70],[1,-90,76,-70,76,-65,67,-80,67,-85,70],
[3,-130,54,-120,60,-105,58,-95,60,-90,58,-85,56,-78,60,-70,62,-62,56,-56,50,-60,46,-75,45,-95,48,-120,48],
[4,-127,50,-112,51,-100,53,-85,52,-75,50,-68,52,-58,50,-64,44,-75,40,-90,28,-96,26,-100,19,-108,25,-118,32],
[5,-120,34,-122,38,-112,45,-103,49.5,-90,50,-75,48,-68,47,-66,44,-75,38,-80,30,-82,29,-90,28,-97,27,-99,22,-103,24,-108,29,-116,32],
[6,-106,36,-100,43,-92,46.5,-82,46,-74,42,-78,35,-81,31,-90,29,-96,29,-99,25,-103,28,-106,31],
[3,-100,19,-88,18,-80,8,-90,12],[3,-92,22,-86,22,-87,16,-92,16],
// south america
[1,-85,14,-55,12,-30,-5,-30,-30,-60,-60,-80,-60,-85,-5],
[0,-76,4,-62,3,-56,-1,-52,-6,-54,-14,-56,-22,-58,-30,-63,-32,-66,-30,-66,-22,-72,-16,-76,-8],
[2,-52,-11,-40,-12,-40,-20,-48,-25,-53,-30,-57,-28,-55,-20],[3,-52,-17,-45,-20,-47,-25,-52,-28,-54,-24],[2,-72,-36,-64,-34,-60,-38,-66,-42,-72,-42],[0,-74,-44,-68,-44,-67,-54,-74,-54],
[10,-70,-22,-67,-23,-66,-26,-67,-28,-69.5,-28],
// eurasia base
[4,-12,62,-5,72,30,72,60,76,180,76,180,-12,95,-12,60,5,52,12,43,12,35,30,-12,36],
// africa
[10,-20,37,12,38,35,32,40,16,20,15.5,-20,15.5],[1,-9,36,12,38,12,33,-2,32,-9,31],
[1,8,29.5,16.5,29.5,16.5,24.5,8,24.5],[1,18,25,27.5,25,27.5,20,21,20.5,18,22],[1,10.5,23.5,14.5,23.5,14.5,19.5,10.5,19.5],[1,20,29.5,27,29.5,27,26,20,26],[1,29,28,33.5,26,31.5,21.5,27.5,24],[1,-3,28.5,3.5,28.5,2.5,24.5,-3,25],[1,-1,20.5,5.5,20.5,5.5,15.5,-1,15.5],
[2,-20,16,20,16,37,17,45,12,55,12,52,-5,42,-10,42,-37,10,-37,5,-5,5,0,-20,2],
[1,-18,16,-5,15,10,14,20,14,22,10,12,8,5,11,-8,10,-15,10],[0,-18,16,-8,15,-5,14,-16,13],
[1,-8,10,14,10,20,8,30,9,36,6,34,-8,38,-16,30,-20,14,-20,9,-5,5,3],
[0,11,6,18,6,30,4,30,-3,30,-11,18,-10,14,-8,11,-3],
[3,28,14,38,15,44,12,52,12,44,2,38,-4,34,2,32,10],[4,36,15,43,12,51,11.5,44,2,40,-1,37,4,35,8],[5,36.5,15,38.5,14.5,38.5,11,37,11],
[3,12,-18,32,-20,34,-26,30,-34,18,-36,14,-27],[4,14,-19,22,-19,22,-33,16,-32],[4,22,-20,35,-22,32,-30,26,-35,20,-35],
[5,23,-22,31,-22,32.5,-26,30,-30,25,-29.5],[6,26,-24,30,-24,30.5,-27,28,-28.5],
[1,42,-11,52,-11,52,-27,42,-27],
// eurasia
[2,125,76,180,76,180,58,160,58,150,60,140,61,128,65],[3,108,74,128,74,125,66,135,62,130,60,115,60,108,65],[2,122,68,136,68,136,62,122,62],[3,5,72,30,72,45,69,30,68,15,65],
[5,0,47,0,50,9,55.7,15,55.7,22,60,32.5,65,44,66,62,66,78,70.5,101,70.5,97,66,98.5,58.6,101.5,51.3,88,49.8,70.6,49.8,56,50.5,42.7,47,44,41.7,28,41.7,22,44.6],
[6,-5,49,9,54,28,55.7,35.5,50.5,15,48,0,47.5],[5,-5,56,1,56,2,51,-5,50.5],
[4,-10,47,0,47,22,44.6,28,41.7,26,40,0,40,-10,40],[3,-10,44,0,44,12,46,22,44,28,42,26,36,0,36,-10,36],[3,26,42,44,41.7,48,36,36,33,27,36],
[3,44,47,56,50,70,49.8,88,49,92,46,88,44,75,40,72,30,65,25,58,25,50,28,46,35],[2,52,46,65,46,70,42,72,38,65,33,60,30,52,36,48,42],
[3,33,33,48,30,60,24,60,18,45,10,38,18],[10,36,34,42,34,45,28,52,26,58,24,58,20,48,15,44,12,40,19,37,26],[3,47,25,58,24,58,21,50,20,47,22],
[10,53,33,58,33.5,64,28,62,26.5,57,28.5,53,30],[10,55,44,65,43,62,40,56,39],[10,62,44,66,44,66,42,62,42],
[5,66,34,72,39.5,85,44.5,92,44,112,44,105,38,105,28,100,12,95,15,92,20,85,22,78,22,70,26],
[6,70,30,74,35,85,38,100,37,118,38,122,32,119,25,110,21,106,20,108,13,103,15,98,17,92,20,88,22,78,8,73,18,70,23],
[7,72,32,78,34,92,36,108,37,118,40,122,36,122,28,112,22,106,22,100,20,96,21,92,24,85,22,80,14,78,8,74,16,72,24],
[8,76,32,85,32,100,33,105,35,110,30,115,30,113,26,105,24,100,26,92,25,85,27,79,23,74,26],
[5,99,16,108,16,106,8,100,8],
[5,107,47,120,54,139,50,130,41,117,38,111,39.5],[6,112,44,122,51,135,50,131,43,125,40,118,37,112,38],[7,118,44,125,48,132,47,128,40,122,38,118,39],[7,124,39,130,42,130,34,125,34],
[10,78,39,88,39,90,42.5,100,44.7,111.5,44,104,38.8,92,38,86.7,34.5,79,34.5],[10,83,66,89,63.5,88,62.5,83,65],[10,87,45,90,45,90,43.5,87,43.5],
[5,130,30,142,42,145,42,142,35,135,32],[6,130,35,136,37,136,34,130,32],[3,139,46,148,46,146,41.5,139,41.5],
[3,94,8,108,8,108,-10,94,-6],[3,119,20,127,20,127,5,119,5],[2,108,8,120,8,120,-5,108,-5],[1,118,2,126,2,126,-6,118,-6],[1,130,0,152,-3,152,-11,130,-10],[0,136,-3,145,-5,145,-8,138,-8],
[1,110,-10,156,-10,156,-45,110,-45],[0,117,-14,137,-13,146,-16,148,-25,140,-30,128,-28,118,-26],[2,144,-40,149,-40,149,-44,144,-44],[1,165,-33,180,-33,180,-48,165,-48],
[2,-180,70,-168,70,-168,62,-180,62]];
const freeD=[[3,-30,72.5,-25,74,-23,72,-24,70,-29,69.5],[2,-58,74,-55,73,-54,70,-57,71],[3,-22,66,-15,65.5,-16,64.5,-22,65]];
const spotsD=[[-4,10,2,1],[84,68,10,.8],[86,66.5,10,.8],[88,65.7,10,.7],[81,67,10,.8],[58,44,10,.8]];

// ---- axes ----
const NS='http://www.w3.org/2000/svg';
const DEG=818/360;
const xOf=lon=>(lon+180)*DEG;
const yOf=lat=>(85-lat)*DEG;
const FRAME_W=xOf(180), FRAME_H=yOf(-85);
function pathOf(a,closed){
  let d='';
  for(let i=0;i<a.length;i+=2){d+=(i?'L':'M')+xOf(a[i]).toFixed(1)+' '+yOf(a[i+1]).toFixed(1);}
  return d+(closed?'Z':'');
}
// closed path with rounded corners, so contour regions look organic
function roundedPathOf(a){
  const n=a.length/2, CUT=0.38, MAXCUT=4;
  let d='';
  for(let i=0;i<n;i++){
    const p=(i+n-1)%n, q=(i+1)%n;
    const x=a[2*i],y=a[2*i+1],px=a[2*p],py=a[2*p+1],qx=a[2*q],qy=a[2*q+1];
    const lp=Math.hypot(px-x,py-y)||1, lq=Math.hypot(qx-x,qy-y)||1;
    const cp=Math.min(CUT,MAXCUT/lp), cq=Math.min(CUT,MAXCUT/lq);
    const ax=x+(px-x)*cp, ay=y+(py-y)*cp, bx=x+(qx-x)*cq, by=y+(qy-y)*cq;
    d+=(i?'L':'M')+xOf(ax).toFixed(1)+' '+yOf(ay).toFixed(1);
    d+='Q'+xOf(x).toFixed(1)+' '+yOf(y).toFixed(1)+' '+xOf(bx).toFixed(1)+' '+yOf(by).toFixed(1);
  }
  return d+'Z';
}
function make(tag,parent,attrs){
  const el=document.createElementNS(NS,tag);
  for(const k in attrs)el.setAttribute(k,attrs[k]);
  parent.appendChild(el);
  return el;
}
const clipLand=[americas,afroEurasia,chukotkaWest,australia].concat(clippedIslands);
const defs=document.getElementById('defs');
const cp=make('clipPath',defs,{id:'landClip'});
make('path',cp,{d:clipLand.map(a=>pathOf(a,true)).join('')});
const cf=make('clipPath',defs,{id:'frameClip'});
make('rect',cf,{x:0,y:0,width:FRAME_W,height:FRAME_H});

function drawPanel(id,field,free,spots){
  const g=document.getElementById('panel-'+id);
  const inner=make('g',g,{'clip-path':'url(#frameClip)'});
  
  
  const land=make('g',inner,{'clip-path':'url(#landClip)'});
  
  
  field.forEach(r=>{
    const p=make('path',land,{d:roundedPathOf(r.slice(1)),fill:palette[r[0]]});
    
    
  });
  spots.forEach(s=>{
    const c=make('circle',land,{cx:xOf(s[0]),cy:yOf(s[1]),r:s[3]*DEG,fill:palette[s[2]]});
    
    
  });
  free.forEach(r=>{
    const p=make('path',inner,{d:roundedPathOf(r.slice(1)),fill:palette[r[0]]});
    
    
  });
  let coast=clipLand.concat(freeIslands).map(a=>pathOf(a,true)).join('');
  coast+=antarcticaBits.map(a=>pathOf(a,a.length>4)).join('');
  coast+=pathOf(antarcticaMain,false)+pathOf(antarcticaWestEnd,false);
  const cl=make('path',inner,{d:coast,fill:'none',stroke:'#000','stroke-width':2,'stroke-linejoin':'round'});
  
  
  const lk=make('path',inner,{d:lakes.map(a=>pathOf(a,true)).join(''),fill:'#fff',stroke:'#000','stroke-width':2,'stroke-linejoin':'round'});
  
  
  islandDots.forEach(d=>{
    const c=make('circle',inner,{cx:xOf(d[0]),cy:yOf(d[1]),r:1.5,fill:'#000'});
    
    
  });
  const fr=make('rect',g,{x:0,y:0,width:FRAME_W,height:FRAME_H,fill:'none',stroke:'#222','stroke-width':2});
  
  
  lonTicks.forEach((t,i)=>{
    const x=xOf(t);
    if(i>0&&i<lonTicks.length-1){
      const t1=make('path',g,{d:'M'+x+' 0V8M'+x+' '+FRAME_H+'V'+(FRAME_H-8),stroke:'#222','stroke-width':2});
      
      
    }
    const tx=make('text',g,{x:x+lonLabelNudge[i],y:FRAME_H+37,'font-size':36.5,'text-anchor':'middle'});
    tx.textContent=lonLabels[i];
    
    
  });
  latTicks.forEach((t,i)=>{
    const y=yOf(t);
    const t1=make('path',g,{d:'M0 '+y+'H8M'+FRAME_W+' '+y+'H'+(FRAME_W-8),stroke:'#222','stroke-width':2});
    
    
    const tx=make('text',g,{x:t===0?-22:-11,y:y+14,'font-size':36.5,'text-anchor':'end'});
    tx.textContent=latLabels[i];
    
    
  });
}
function drawColorbar(id,levels,labels){
  const g=document.getElementById('cb-'+id);
  const W=818,H=58,n=levels.length,step=W/n;
  levels.forEach((lv,i)=>{
    const r=make('rect',g,{x:i*step,y:0,width:step+.5,height:H,fill:palette[lv]});
    
    
  });
  const fr=make('rect',g,{x:0,y:0,width:W,height:H,fill:'none',stroke:'#333','stroke-width':2});
  
  
  labels.forEach((l,i)=>{
    const x=i*step;
    const t=make('path',g,{d:'M'+x+' '+H+'V'+(H-6),stroke:'#333','stroke-width':2});
    
    
    const tx=make('text',g,{x:x,y:106,'font-size':33,'text-anchor':'middle'});
    tx.textContent=l;
    
    
  });
}
drawPanel('a',fieldA,freeA,[]);
drawPanel('b',fieldB,freeB,spotsB);
drawPanel('c',fieldC,freeC,[]);
drawPanel('d',fieldD,freeD,spotsD);
drawColorbar('a',cbLevelsDelta,cbLabelsA);
drawColorbar('b',cbLevelsPct,cbLabelsPct);
drawColorbar('c',cbLevelsDelta,cbLabelsC);
drawColorbar('d',cbLevelsPct,cbLabelsPct);
</script>
</body></html>
